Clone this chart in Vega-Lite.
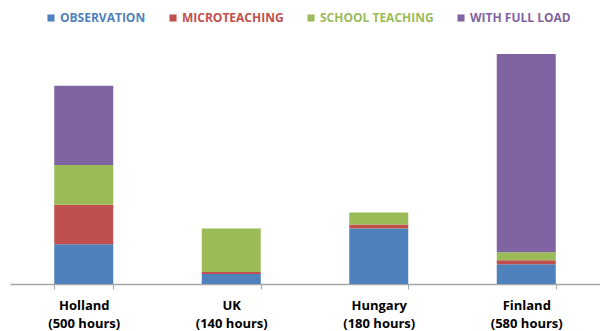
{
  "$schema": "https://vega.github.io/schema/vega-lite/v6.json",
  "autosize": {"type": "none"},
  "width": 590,
  "height": 238,
  "padding": {"left": 10, "top": 46, "right": 0, "bottom": 47},
  "background": "white",
  "config": {
    "view": {"stroke": null},
    "font": "Open Sans"
  },
  "data": {
    "values": [
      {"country": "Holland (500 hours)", "phase": "OBSERVATION", "seq": 1, "hours": 100},
      {"country": "Holland (500 hours)", "phase": "MICROTEACHING", "seq": 2, "hours": 100},
      {"country": "Holland (500 hours)", "phase": "SCHOOL TEACHING", "seq": 3, "hours": 100},
      {"country": "Holland (500 hours)", "phase": "WITH FULL LOAD", "seq": 4, "hours": 200},
      {"country": "UK (140 hours)", "phase": "OBSERVATION", "seq": 1, "hours": 25},
      {"country": "UK (140 hours)", "phase": "MICROTEACHING", "seq": 2, "hours": 5},
      {"country": "UK (140 hours)", "phase": "SCHOOL TEACHING", "seq": 3, "hours": 110},
      {"country": "UK (140 hours)", "phase": "WITH FULL LOAD", "seq": 4, "hours": 0},
      {"country": "Hungary (180 hours)", "phase": "OBSERVATION", "seq": 1, "hours": 140},
      {"country": "Hungary (180 hours)", "phase": "MICROTEACHING", "seq": 2, "hours": 10},
      {"country": "Hungary (180 hours)", "phase": "SCHOOL TEACHING", "seq": 3, "hours": 30},
      {"country": "Hungary (180 hours)", "phase": "WITH FULL LOAD", "seq": 4, "hours": 0},
      {"country": "Finland (580 hours)", "phase": "OBSERVATION", "seq": 1, "hours": 50},
      {"country": "Finland (580 hours)", "phase": "MICROTEACHING", "seq": 2, "hours": 10},
      {"country": "Finland (580 hours)", "phase": "SCHOOL TEACHING", "seq": 3, "hours": 20},
      {"country": "Finland (580 hours)", "phase": "WITH FULL LOAD", "seq": 4, "hours": 500}
    ]
  },
  "mark": {"type": "bar"},
  "encoding": {
    "x": {
      "field": "country",
      "type": "nominal",
      "sort": null,
      "scale": {"paddingInner": 0.6, "paddingOuter": 0.3},
      "axis": {
        "title": null,
        "labelAngle": 0,
        "labelExpr": "indexof(datum.label + '', ' (') > 0 ? [split(datum.label, ' (')[0], '(' + split(datum.label, ' (')[1]] : ''",
        "labelFont": "Open Sans",
        "labelFontWeight": "bold",
        "labelFontSize": 13,
        "labelColor": "#000000",
        "labelLineHeight": 18,
        "labelPadding": 10,
        "tickBand": "extent",
        "tickSize": 5,
        "tickColor": "#A6A6A6",
        "domainColor": "#A6A6A6",
        "domainWidth": 1.5,
        "grid": false
      }
    },
    "y": {
      "field": "hours",
      "type": "quantitative",
      "stack": "zero",
      "scale": {"domain": [0, 600], "nice": false},
      "axis": null
    },
    "order": {"field": "seq", "type": "quantitative"},
    "color": {
      "field": "phase",
      "type": "nominal",
      "scale": {
        "domain": ["OBSERVATION", "MICROTEACHING", "SCHOOL TEACHING", "WITH FULL LOAD"],
        "range": ["#4F81BD", "#C0504D", "#9BBB59", "#8064A2"]
      },
      "legend": {
        "title": null,
        "orient": "none",
        "direction": "horizontal",
        "legendX": 35,
        "legendY": -34,
        "symbolType": "square",
        "symbolSize": 50,
        "symbolStrokeWidth": 0,
        "symbolOpacity": 1,
        "labelFont": "Open Sans",
        "labelFontWeight": "bold",
        "labelFontSize": 12,
        "labelOffset": 3,
        "columnPadding": 21,
        "labelLimit": 300,
        "encode": {
          "labels": {"update": {"fill": {"scale": "color", "field": "value"}}}
        }
      }
    }
  }
}
